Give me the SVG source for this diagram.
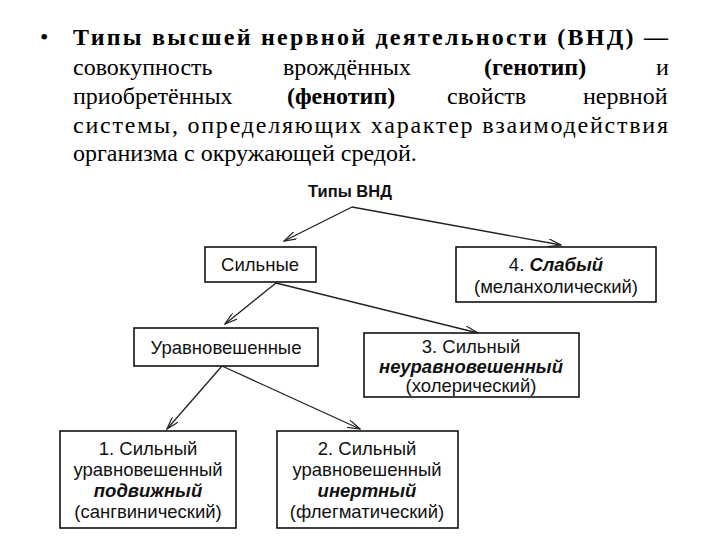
<svg xmlns="http://www.w3.org/2000/svg" width="720" height="540" viewBox="0 0 720 540">
<style>
.h{font-family:"Liberation Serif",serif;font-size:24px;fill:#000}
.b{font-weight:bold}
.d{font-family:"Liberation Sans",Arial,sans-serif;font-size:18.5px;fill:#111;text-anchor:middle}
.bi{font-weight:bold;font-style:italic}
.box{fill:#fff;stroke:#111;stroke-width:1.6}
.c{stroke:#222;stroke-width:1.3;fill:none;marker-end:url(#a)}
</style>
<defs><marker id="a" markerWidth="14" markerHeight="8" refX="13" refY="4" orient="auto" markerUnits="userSpaceOnUse"><path d="M0,0 L13,4 L0,8" fill="none" stroke="#222" stroke-width="1.2"/></marker></defs>
<rect width="720" height="540" fill="#fff"/>
<g id="header">
<text class="h" x="40" y="45">•</text>
<text class="h b" x="73" y="45" textLength="595" lengthAdjust="spacing">Типы высшей нервной деятельности (ВНД) —</text>
<text class="h" x="73" y="75">совокупность</text>
<text class="h" x="283" y="75">врождённых</text>
<text class="h b" x="484" y="75">(генотип)</text>
<text class="h" x="656" y="75">и</text>
<text class="h" x="73" y="104">приобретённых</text>
<text class="h b" x="287" y="104">(фенотип)</text>
<text class="h" x="447" y="104">свойств</text>
<text class="h" x="583" y="104">нервной</text>
<text class="h" x="73" y="133" textLength="595" lengthAdjust="spacing">системы, определяющих характер взаимодействия</text>
<text class="h" x="73" y="161">организма с окружающей средой.</text>
</g>
<g id="connectors">
<path class="c" d="M352,207 L284,241"/>
<path class="c" d="M352,207 L561,245"/>
<path class="c" d="M276,283 L225,324"/>
<path class="c" d="M276,283 L478,333"/>
<path class="c" d="M222,366 L167,429"/>
<path class="c" d="M222,366 L360,429"/>
</g>
<g id="root"><text class="d b" x="350" y="197" style="font-size:16.5px">Типы ВНД</text></g>
<g id="strong"><rect class="box" x="205" y="247" width="111" height="35"/><text class="d" x="260" y="271">Сильные</text></g>
<g id="weak"><rect class="box" x="456" y="247" width="200" height="55"/><text class="d" x="556" y="271"><tspan>4. </tspan><tspan class="bi">Слабый</tspan></text><text class="d" x="556" y="293">(меланхолический)</text></g>
<g id="balanced"><rect class="box" x="134" y="328" width="184" height="38"/><text class="d" x="226" y="354">Уравновешенные</text></g>
<g id="n3"><rect class="box" x="364" y="333" width="215" height="64"/><text class="d" x="471" y="353">3. Сильный</text><text class="d bi" x="471" y="373">неуравновешенный</text><text class="d" x="471" y="392">(холерический)</text></g>
<g id="n1"><rect class="box" x="60" y="431" width="176" height="97"/><text class="d" x="148" y="455">1. Сильный</text><text class="d" x="148" y="476">уравновешенный</text><text class="d bi" x="148" y="497">подвижный</text><text class="d" x="148" y="518">(сангвинический)</text></g>
<g id="n2"><rect class="box" x="277" y="431" width="181" height="97"/><text class="d" x="367" y="455">2. Сильный</text><text class="d" x="367" y="476">уравновешенный</text><text class="d bi" x="367" y="497">инертный</text><text class="d" x="367" y="518">(флегматический)</text></g>
</svg>
